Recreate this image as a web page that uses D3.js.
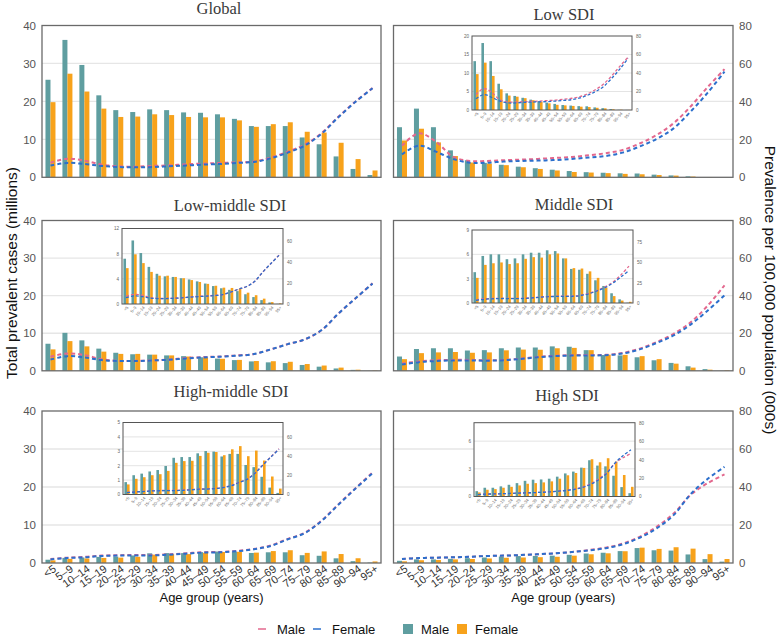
<!DOCTYPE html>
<html lang="en">
<head>
<meta charset="UTF-8" />
<title>Prevalent cases and prevalence by age group</title>
<script src="https://d3js.org/d3.v7.min.js"></script>
<style>
  body { margin: 0; background: #fff; font-family: "Liberation Sans", Arial, sans-serif; }
  svg { display: block; }
  .title { font-family: "Liberation Serif", serif; font-size: 16.5px; fill: #3a3a3a; text-anchor: middle; }
  .axis-title { font-size: 15.5px; fill: #111; text-anchor: middle; }
  .x-title { font-size: 13px; fill: #111; text-anchor: middle; }
  .legend text { font-size: 13px; fill: #111; }
</style>
</head>
<body>
<svg width="779" height="636"></svg>
<script>
const ages = ["<5","5–9","10–14","15–19","20–24","25–29","30–34","35–39","40–44","45–49",
  "50–54","55–59","60–64","65–69","70–74","75–79","80–84","85–89","90–94","95+"];
const caseTicks = [0, 10, 20, 30, 40];
const rateTicks = [0, 20, 40, 60, 80];

// total prevalent cases (millions)
const globalMale   = [25.7,36.2,29.6,21.6,17.7,17.2,17.9,17.7,17.1,17.0,16.6,15.4,13.5,13.5,13.5,10.5,8.7,5.5,2.2,0.6];
const globalFemale = [19.8,27.3,22.6,18.1,15.9,16.0,16.6,16.4,15.9,15.8,15.8,15.0,13.3,14.0,14.5,12.0,11.8,9.1,4.8,1.8];
const lowMale      = [13.2,18.1,13.2,7.1,4.5,3.8,3.3,2.8,2.4,2.0,1.65,1.35,1.2,1.05,1.0,0.7,0.5,0.25,0.05,0.02];
const lowFemale    = [9.7,12.8,9.2,5.6,3.9,3.6,3.2,2.65,2.2,1.8,1.4,1.25,1.1,0.9,0.8,0.6,0.45,0.2,0.08,0.03];
const lmMale       = [7.2,10.1,8.1,5.9,4.8,4.4,4.3,4.1,3.9,3.6,3.25,2.85,2.5,2.25,2.05,1.55,1.1,0.62,0.25,0.02];
const lmFemale     = [5.7,7.9,6.5,5.1,4.5,4.5,4.3,4.1,3.8,3.5,3.2,2.9,2.6,2.55,2.4,1.8,1.4,0.85,0.3,0.1];
const midMale      = [3.8,5.8,6.0,6.0,5.4,5.5,6.0,6.2,6.2,6.5,6.4,5.5,4.2,4.1,3.6,2.8,2.1,1.2,0.45,0.03];
const midFemale    = [3.1,4.7,4.9,5.0,4.8,4.9,5.45,5.65,5.6,6.0,6.1,5.5,4.3,4.25,3.9,3.1,1.9,0.85,0.3,0.15];
const hmMale       = [0.86,1.34,1.45,1.6,1.7,1.98,2.55,2.6,2.6,2.86,3.02,2.98,2.64,2.82,2.82,2.05,1.9,1.23,0.48,0.11];
const hmFemale     = [0.7,1.09,1.2,1.34,1.41,1.64,2.2,2.32,2.34,2.68,2.9,2.95,2.73,3.14,3.36,2.66,3.05,2.36,1.25,0.41];
const hiMale       = [0.58,0.95,0.95,1.1,1.27,1.45,1.7,1.82,1.85,1.93,2.15,2.5,2.7,3.13,3.93,3.35,3.27,2.25,1.02,0.36];
const hiFemale     = [0.44,0.73,0.8,0.95,1.05,1.2,1.38,1.45,1.53,1.64,1.93,2.3,2.55,3.1,4.04,3.71,4.15,3.78,2.33,1.05];

// prevalence per 100,000 population (000s)
const globalMaleRate   = [7.7,9.8,8.8,6.7,5.8,5.6,6.0,6.3,6.9,7.2,7.6,7.9,8.3,10.4,13.5,17.2,23.3,32.0,40.0,47.0];
const globalFemaleRate = [6.2,7.6,7.0,6.0,5.4,5.3,5.4,5.8,6.2,6.7,7.0,7.6,8.1,10.0,13.0,16.7,23.0,31.8,39.8,46.9];
const lowMaleRate      = [16.7,23.2,18.8,10.9,8.6,8.6,9.0,9.3,9.7,10.2,10.7,11.6,12.7,14.4,17.8,22.3,28.5,37.3,47.5,57.0];
const lowFemaleRate    = [12.1,16.7,13.5,9.7,7.7,7.7,8.3,8.6,8.8,9.1,9.7,10.4,11.2,13.0,16.2,20.2,25.8,34.6,44.5,55.7];
const lmMaleRate       = [7.5,9.2,8.4,6.2,5.3,5.3,5.5,6.0,6.8,7.3,7.6,8.2,8.9,11.4,14.2,16.7,21.7,30.6,38.6,46.6];
const lmFemaleRate     = [6.0,7.8,7.1,5.7,5.2,5.2,5.5,5.9,6.6,7.1,7.5,8.0,8.9,11.4,14.2,16.7,21.7,30.6,38.6,46.4];
const midMaleRate      = [3.9,5.0,5.6,5.8,5.8,5.6,5.8,6.5,7.4,8.0,8.3,8.4,8.5,9.5,11.8,15.3,19.7,25.8,34.6,45.5];
const midFemaleRate    = [3.3,4.6,5.2,5.5,5.5,5.4,5.6,6.3,7.2,7.8,8.1,8.2,8.3,9.2,11.4,14.8,18.8,24.6,32.0,40.2];
const hmMaleRate       = [2.1,2.8,3.2,3.9,4.1,4.2,4.2,4.6,5.1,5.7,5.8,6.4,7.4,9.2,12.7,15.9,22.4,31.0,39.4,47.7];
const hmFemaleRate     = [1.9,2.6,3.0,3.7,3.9,4.0,4.0,4.4,4.9,5.5,5.6,6.2,7.2,9.0,12.5,15.7,22.2,30.8,39.2,47.2];
const hiMaleRate       = [2.1,2.6,2.8,3.0,3.3,3.7,3.9,4.2,4.6,5.1,5.8,6.8,8.1,10.2,13.8,19.1,26.0,35.8,42.0,46.6];
const hiFemaleRate     = [2.1,2.6,2.8,3.0,3.3,3.7,3.9,4.2,4.6,5.1,5.8,6.6,7.8,9.8,13.3,18.2,25.2,36.2,44.2,50.6];

// inset axis ticks
const lowInsetTicks = [0, 5, 10, 15, 20], lowInsetRateTicks = [0, 20, 40, 60, 80];
const lmInsetTicks = [0, 4, 8, 12], lmInsetRateTicks = [0, 20, 40, 60];
const midInsetTicks = [0, 3, 6, 9], midInsetRateTicks = [0, 25, 50, 75];
const hmInsetTicks = [0, 1, 2, 3, 4, 5], hmInsetRateTicks = [0, 20, 40, 60];
const hiInsetTicks = [0, 3, 6], hiInsetRateTicks = [0, 20, 40, 60, 80];

const teal = "#5f9ea0", orange = "#f7a21b", pink = "#e3688e", blue = "#2b6fcc";
const svg = d3.select("svg");

const L = [42, 381], R = [393.5, 733];
const panels = [
  { title: "Global", male: globalMale, female: globalFemale, mr: globalMaleRate, fr: globalFemaleRate,
    xr: L, top: 25.5, bottom: 177.3, side: "left", tx: 219, ty: 14 },
  { title: "Low SDI", male: lowMale, female: lowFemale, mr: lowMaleRate, fr: lowFemaleRate,
    xr: R, top: 25.5, bottom: 177.3, side: "right", tx: 564, ty: 20,
    inset: { x: [472, 632], y: [110, 36], max: 20, rmax: 80, ticks: lowInsetTicks, rticks: lowInsetRateTicks } },
  { title: "Low-middle SDI", male: lmMale, female: lmFemale, mr: lmMaleRate, fr: lmFemaleRate,
    xr: L, top: 220.5, bottom: 370.8, side: "left", tx: 230, ty: 211,
    inset: { x: [122, 283], y: [304, 228.5], max: 12, rmax: 72, ticks: lmInsetTicks, rticks: lmInsetRateTicks } },
  { title: "Middle SDI", male: midMale, female: midFemale, mr: midMaleRate, fr: midFemaleRate,
    xr: R, top: 220.5, bottom: 370.8, side: "right", tx: 574, ty: 210,
    inset: { x: [472, 633], y: [303, 230], max: 9, rmax: 90, ticks: midInsetTicks, rticks: midInsetRateTicks } },
  { title: "High-middle SDI", male: hmMale, female: hmFemale, mr: hmMaleRate, fr: hmFemaleRate,
    xr: L, top: 411, bottom: 563, side: "left", tx: 231, ty: 397, bottomRow: true,
    inset: { x: [123, 283], y: [494.5, 422.5], max: 5, rmax: 75, ticks: hmInsetTicks, rticks: hmInsetRateTicks } },
  { title: "High SDI", male: hiMale, female: hiFemale, mr: hiMaleRate, fr: hiFemaleRate,
    xr: R, top: 411, bottom: 563, side: "right", tx: 567, ty: 401, bottomRow: true,
    inset: { x: [474, 635], y: [496.5, 422.7], max: 8, rmax: 80, ticks: hiInsetTicks, rticks: hiInsetRateTicks } }
];

function drawBarsAndLines(g, p, x, yBar, yRate, bw, lw, dash) {
  const cx = (i) => x(ages[i]) + x.bandwidth() / 2;
  g.selectAll("rect.male").data(p.male).join("rect").attr("class", "male")
    .attr("x", (d, i) => cx(i) - bw).attr("y", d => yBar(d))
    .attr("width", bw).attr("height", d => yBar(0) - yBar(d)).attr("fill", teal);
  g.selectAll("rect.female").data(p.female).join("rect").attr("class", "female")
    .attr("x", (d, i) => cx(i)).attr("y", d => yBar(d))
    .attr("width", bw).attr("height", d => yBar(0) - yBar(d)).attr("fill", orange);
  const line = d3.line().x((d, i) => cx(i)).y(d => yRate(d)).curve(d3.curveCatmullRom);
  [[p.mr, pink], [p.fr, blue]].forEach(([vals, col]) => {
    g.append("path").datum(vals).attr("d", line).attr("fill", "none")
      .attr("stroke", col).attr("stroke-width", lw).attr("stroke-dasharray", dash);
  });
}

function drawInset(p) {
  const s = p.inset;
  const g = svg.append("g");
  const x = d3.scaleBand().domain(ages).range(s.x);
  const yBar = d3.scaleLinear().domain([0, s.max]).range(s.y);
  const yRate = d3.scaleLinear().domain([0, s.rmax]).range(s.y);
  g.append("rect").attr("x", s.x[0]).attr("y", s.y[1])
    .attr("width", s.x[1] - s.x[0]).attr("height", s.y[0] - s.y[1]).attr("fill", "#fff");
  g.selectAll("line.grid").data(s.ticks.filter(t => t > 0 && t < s.max)).join("line").attr("class", "grid")
    .attr("x1", s.x[0]).attr("x2", s.x[1]).attr("y1", d => yBar(d)).attr("y2", d => yBar(d))
    .attr("stroke", "#e4e4e4").attr("stroke-width", 1);
  drawBarsAndLines(g, p, x, yBar, yRate, 2.6, 1.3, "3,2");
  g.append("rect").attr("x", s.x[0]).attr("y", s.y[1])
    .attr("width", s.x[1] - s.x[0]).attr("height", s.y[0] - s.y[1])
    .attr("fill", "none").attr("stroke", "#555").attr("stroke-width", 1);

  const styleAxis = (a, size) => {
    a.select(".domain").remove();
    a.selectAll("text").attr("font-size", size).attr("fill", "#666")
      .attr("font-family", "Liberation Sans, Arial, sans-serif");
  };
  g.append("g").attr("transform", `translate(${s.x[0]},0)`)
    .call(d3.axisLeft(yBar).tickValues(s.ticks).tickFormat(d3.format("d")).tickSize(0).tickPadding(3))
    .call(a => styleAxis(a, 4.6));
  g.append("g").attr("transform", `translate(${s.x[1]},0)`)
    .call(d3.axisRight(yRate).tickValues(s.rticks).tickFormat(d3.format("d")).tickSize(0).tickPadding(4))
    .call(a => styleAxis(a, 4.6));
  g.append("g").attr("transform", `translate(0,${s.y[0]})`)
    .call(d3.axisBottom(x).tickSize(0).tickPadding(2))
    .call(a => {
      styleAxis(a, 4.2);
      a.selectAll("text").attr("x", -1).attr("y", 3).attr("dy", "0.35em")
        .attr("transform", "rotate(-50)").style("text-anchor", "end");
    });
}

panels.forEach(p => {
  const g = svg.append("g");
  const x = d3.scaleBand().domain(ages).range(p.xr);
  const yBar = d3.scaleLinear().domain([0, 40]).range([p.bottom, p.top]);
  const yRate = d3.scaleLinear().domain([0, 80]).range([p.bottom, p.top]);

  g.selectAll("line.grid").data(caseTicks.slice(1, -1)).join("line").attr("class", "grid")
    .attr("x1", p.xr[0]).attr("x2", p.xr[1]).attr("y1", d => yBar(d)).attr("y2", d => yBar(d))
    .attr("stroke", "#e6e6e6").attr("stroke-width", 1.3);

  drawBarsAndLines(g, p, x, yBar, yRate, 5, 2, "4,3");

  g.append("rect").attr("x", p.xr[0]).attr("y", p.top)
    .attr("width", p.xr[1] - p.xr[0]).attr("height", p.bottom - p.top)
    .attr("fill", "none").attr("stroke", "#6a6a6a").attr("stroke-width", 1.3);

  const styleAxis = (a, size) => {
    a.select(".domain").remove();
    a.selectAll("text").attr("font-size", size).attr("fill", "#555")
      .attr("font-family", "Liberation Sans, Arial, sans-serif");
  };
  if (p.side === "left") {
    g.append("g").attr("transform", `translate(${p.xr[0]},0)`)
      .call(d3.axisLeft(yBar).tickValues(caseTicks).tickSize(0).tickPadding(6))
      .call(a => styleAxis(a, 11.5));
  } else {
    g.append("g").attr("transform", `translate(${p.xr[1]},0)`)
      .call(d3.axisRight(yRate).tickValues(rateTicks).tickSize(0).tickPadding(6))
      .call(a => styleAxis(a, 11.5));
  }
  if (p.bottomRow) {
    g.append("g").attr("transform", `translate(0,${p.bottom})`)
      .call(d3.axisBottom(x).tickSize(0))
      .call(a => {
        styleAxis(a, 11);
        a.selectAll("text").attr("fill", "#333").attr("x", 1).attr("y", 6).attr("dy", "0.35em")
          .attr("transform", "rotate(-35)").style("text-anchor", "end");
      });
    g.append("text").attr("class", "x-title")
      .attr("x", (p.xr[0] + p.xr[1]) / 2).attr("y", 602).text("Age group (years)");
  }
  g.append("text").attr("class", "title").attr("x", p.tx).attr("y", p.ty).text(p.title);
  if (p.inset) drawInset(p);
});

svg.append("text").attr("class", "axis-title")
  .attr("transform", "translate(16.5,273) rotate(-90)").text("Total prevalent cases (millions)");
svg.append("text").attr("class", "axis-title")
  .attr("transform", "translate(765,290) rotate(90)").text("Prevalence per 100,000 population (000s)");

// legends
const legend = svg.append("g").attr("class", "legend");
const lineItems = [["Male", pink, 258], ["Female", blue, 313]];
lineItems.forEach(([name, col, lx]) => {
  legend.append("line").attr("x1", lx).attr("x2", lx + 8).attr("y1", 629).attr("y2", 629)
    .attr("stroke", col).attr("stroke-width", 1.5);
  legend.append("text").attr("x", lx + 19).attr("y", 633.5).text(name);
});
const barItems = [["Male", teal, 403], ["Female", orange, 457]];
barItems.forEach(([name, col, lx]) => {
  legend.append("rect").attr("x", lx).attr("y", 624).attr("width", 10).attr("height", 10).attr("fill", col);
  legend.append("text").attr("x", lx + 18).attr("y", 633.5).text(name);
});
</script>
</body>
</html>
